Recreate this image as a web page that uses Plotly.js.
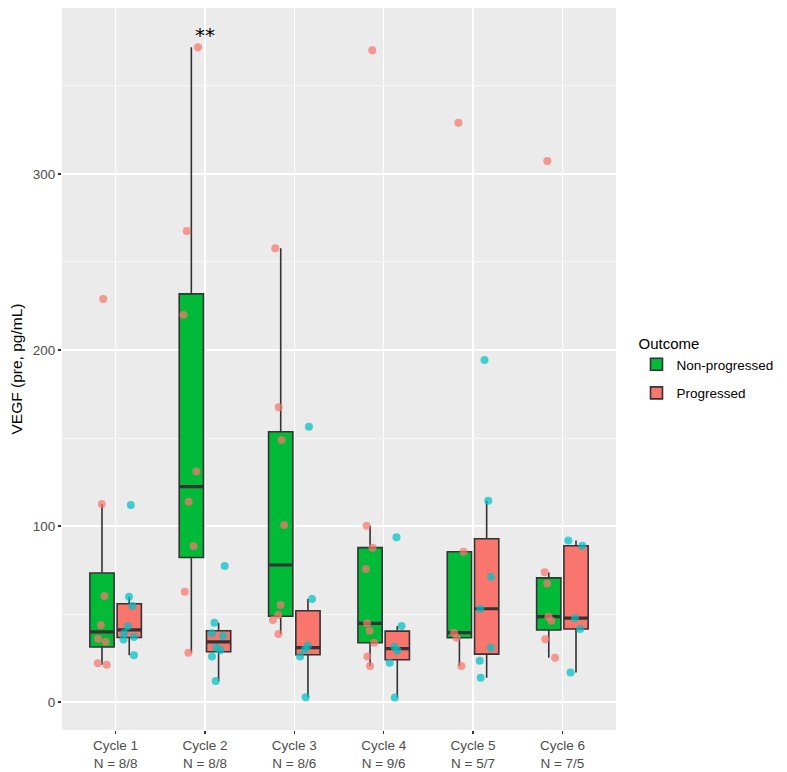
<!DOCTYPE html>
<html>
<head>
<meta charset="utf-8">
<script src="https://cdn.plot.ly/plotly-3.0.1.min.js"></script>
<style>html,body{margin:0;padding:0;background:#fff;}#chart{width:787px;height:772px;}</style>
</head>
<body>
<div id="chart"></div>
<script>
// Categories and tick labels
const cycles = ['Cycle 1', 'Cycle 2', 'Cycle 3', 'Cycle 4', 'Cycle 5', 'Cycle 6'];
const nLabels = ['N = 8/8', 'N = 8/8', 'N = 8/6', 'N = 9/6', 'N = 5/7', 'N = 7/5'];

// VEGF (pre, pg/mL) — Non-progressed
const nonProg1 = [229, 112.5, 60.2, 43.8, 36, 34.3, 21.2, 22];
const nonProg2 = [372, 267.6, 220, 130.9, 113.8, 88.6, 62.7, 28];
const nonProg3 = [257.8, 167.4, 148.9, 100.6, 55.1, 49.4, 46.6, 38.6];
const nonProg4 = [370.3, 100.2, 87.7, 75.6, 44.7, 40.5, 33.7, 25.8, 20.5];
const nonProg5 = [329.1, 85.4, 39.4, 36.5, 20.5];
const nonProg6 = [307.4, 73.7, 67.4, 48.5, 46.2, 35.6, 25.2];

// VEGF (pre, pg/mL) — Progressed
const prog1 = [112, 59.8, 54.5, 43, 39, 37, 35.5, 26.5];
const prog2 = [77.3, 45, 39, 37.5, 30.9, 29.5, 25.8, 11.9];
const prog3 = [156.4, 58.5, 32, 29.9, 25.8, 2.7];
const prog4 = [93.6, 43.2, 31.4, 29.2, 22.3, 2.5];
const prog5 = [194.3, 114.4, 71.2, 53, 30.9, 23.5, 13.8];
const prog6 = [91.7, 88.8, 47.7, 41.5, 16.7];

const nonProgAll = [nonProg1, nonProg2, nonProg3, nonProg4, nonProg5, nonProg6];
const progAll = [prog1, prog2, prog3, prog4, prog5, prog6];

// R / ggplot2 style statistics (quantile type 7, whiskers at 1.5 IQR)
function quantile7(sorted, p) {
  const h = (sorted.length - 1) * p;
  const lo = Math.floor(h), hi = Math.ceil(h);
  return sorted[lo] + (h - lo) * (sorted[hi] - sorted[lo]);
}
function stats(groups) {
  const s = {q1: [], median: [], q3: [], lowerfence: [], upperfence: []};
  groups.forEach(vals => {
    const v = vals.slice().sort((a, b) => a - b);
    const q1 = quantile7(v, 0.25), md = quantile7(v, 0.5), q3 = quantile7(v, 0.75);
    const iqr = q3 - q1;
    const inside = v.filter(d => d >= q1 - 1.5 * iqr && d <= q3 + 1.5 * iqr);
    s.q1.push(q1); s.median.push(md); s.q3.push(q3);
    s.lowerfence.push(Math.min(...inside));
    s.upperfence.push(Math.max(...inside));
  });
  return s;
}
// degenerate box collapsed onto the median -> thick median bar (ggplot fatten)
function medianStats(groups) {
  const m = stats(groups).median;
  return {q1: m, median: m, q3: m, lowerfence: m, upperfence: m};
}

const npStats = stats(nonProgAll), prStats = stats(progAll);

const base = {
  type: 'box',
  x: cycles,
  whiskerwidth: 0,
  hoverinfo: 'skip'
};

const traces = [
  // boxes
  Object.assign({}, base, npStats, {
    name: 'Non-progressed', offsetgroup: 'np', legendgroup: 'np',
    boxpoints: false, fillcolor: '#00BA38',
    line: {color: '#333333', width: 1.6}
  }),
  Object.assign({}, base, prStats, {
    name: 'Progressed', offsetgroup: 'pr', legendgroup: 'pr',
    boxpoints: false, fillcolor: '#F8766D',
    line: {color: '#333333', width: 1.6}
  }),
  // thick medians
  Object.assign({}, base, medianStats(nonProgAll), {
    name: 'Non-progressed', offsetgroup: 'np', legendgroup: 'np', showlegend: false,
    boxpoints: false, fillcolor: 'rgba(0,0,0,0)',
    line: {color: '#333333', width: 3.2}
  }),
  Object.assign({}, base, medianStats(progAll), {
    name: 'Progressed', offsetgroup: 'pr', legendgroup: 'pr', showlegend: false,
    boxpoints: false, fillcolor: 'rgba(0,0,0,0)',
    line: {color: '#333333', width: 3.2}
  }),
  // jittered points on top
  Object.assign({}, base, npStats, {
    name: 'Non-progressed', offsetgroup: 'np', legendgroup: 'np', showlegend: false,
    y: nonProgAll, boxpoints: 'all', jitter: 0.75, pointpos: 0,
    fillcolor: 'rgba(0,0,0,0)', line: {color: 'rgba(0,0,0,0)', width: 0},
    marker: {color: 'rgba(248,118,109,0.72)', size: 8, line: {width: 0}}
  }),
  Object.assign({}, base, prStats, {
    name: 'Progressed', offsetgroup: 'pr', legendgroup: 'pr', showlegend: false,
    y: progAll, boxpoints: 'all', jitter: 0.75, pointpos: 0,
    fillcolor: 'rgba(0,0,0,0)', line: {color: 'rgba(0,0,0,0)', width: 0},
    marker: {color: 'rgba(0,191,196,0.72)', size: 8, line: {width: 0}}
  })
];

const tickFont = {family: 'Liberation Sans, Arial, sans-serif', size: 13.5, color: '#4D4D4D'};

const layout = {
  width: 787,
  height: 772,
  margin: {l: 62, r: 169, t: 8, b: 42},
  paper_bgcolor: '#FFFFFF',
  plot_bgcolor: '#EBEBEB',
  boxmode: 'group',
  boxgap: 0.39,
  boxgroupgap: 0.11,
  font: {family: 'Liberation Sans, Arial, sans-serif'},
  xaxis: {
    type: 'category',
    categoryorder: 'array',
    categoryarray: cycles,
    tickvals: cycles,
    ticktext: cycles.map((c, i) => c + '<br>' + nLabels[i]),
    range: [-0.6, cycles.length - 0.4],
    showgrid: true,
    gridcolor: '#FFFFFF',
    gridwidth: 1.4,
    zeroline: false,
    ticks: 'outside',
    ticklen: 3,
    tickwidth: 1.2,
    tickcolor: '#333333',
    tickfont: tickFont,
    showline: false,
    fixedrange: true
  },
  yaxis: {
    title: {text: 'VEGF (pre, pg/mL)', font: {size: 15.5, color: '#000000'}, standoff: 6},
    range: [-15.9, 394.3],
    tickvals: [0, 100, 200, 300],
    showgrid: true,
    gridcolor: '#FFFFFF',
    gridwidth: 1.4,
    minor: {showgrid: true, gridcolor: '#FFFFFF', gridwidth: 0.6, tickvals: [50, 150, 250, 350]},
    zeroline: false,
    ticks: 'outside',
    ticklen: 3,
    tickwidth: 1.2,
    tickcolor: '#333333',
    tickfont: tickFont,
    showline: false,
    fixedrange: true
  },
  legend: {
    title: {text: 'Outcome', font: {size: 15, color: '#000000'}},
    font: {size: 13.5, color: '#000000'},
    x: 1.037, xanchor: 'left',
    y: 0.5, yanchor: 'middle',
    bgcolor: 'rgba(0,0,0,0)',
    tracegroupgap: 8
  },
  annotations: [{
    x: cycles[1],
    y: Math.max(...nonProg2),
    yshift: 12,
    text: '**',
    showarrow: false,
    font: {size: 20, color: '#000000', family: 'DejaVu Sans, sans-serif'}
  }],
  showlegend: true
};

Plotly.newPlot('chart', traces, layout, {displayModeBar: false, staticPlot: true});
</script>
</body>
</html>
